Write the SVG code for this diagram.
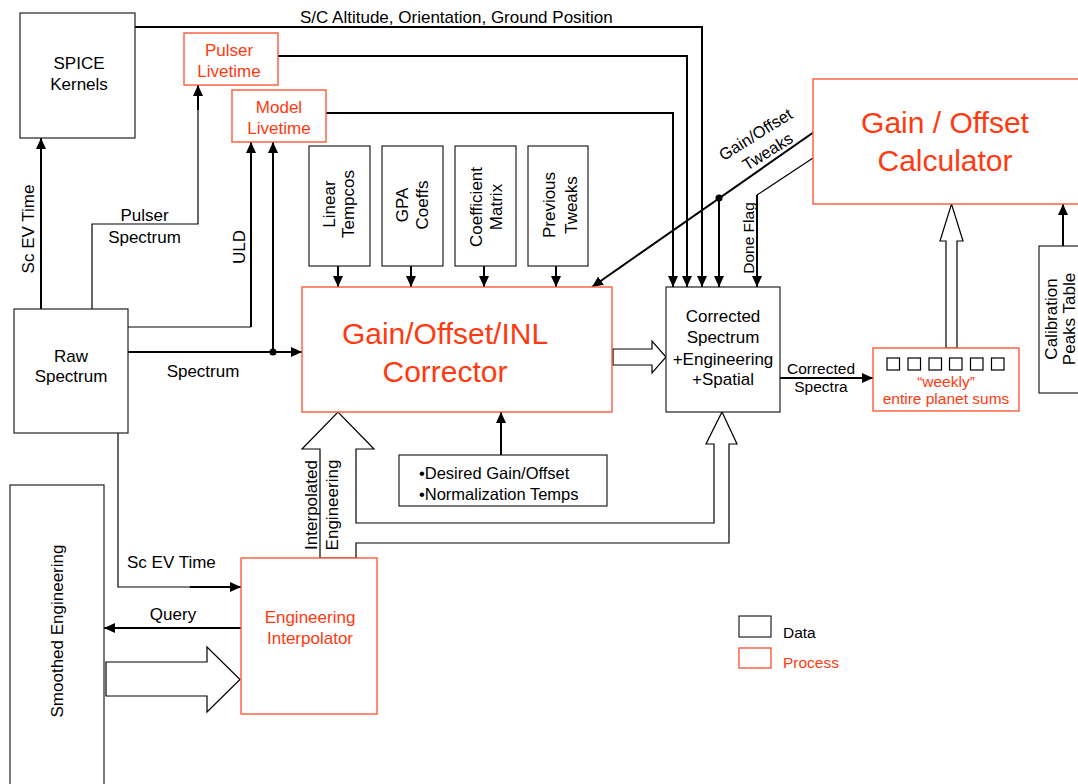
<svg xmlns="http://www.w3.org/2000/svg" width="1078" height="784" viewBox="0 0 1078 784">
  <defs>
    <marker id="ah" markerUnits="userSpaceOnUse" markerWidth="12" markerHeight="11" refX="11" refY="5" orient="auto">
      <path d="M0,0 L11,5 L0,10 z" fill="#000"/>
    </marker>
    <style>
      text { font-family: "Liberation Sans", Arial, sans-serif; fill: #000; }
      .data { fill: #fff; stroke: #222; stroke-width: 1.2; }
      .proc { fill: #fff; stroke: #ff5a3a; stroke-width: 1.4; }
      .red { fill: #ff3a10; }
      .t17 { font-size: 17px; }
      .t15 { font-size: 15.5px; }
      .t16 { font-size: 16.5px; }
      .mid { text-anchor: middle; }
      .big { font-size: 30px; }
      .ln { fill: none; stroke: #000; stroke-width: 2; }
      .thin { fill: none; stroke: #000; stroke-width: 1.2; }
      .arr { marker-end: url(#ah); }
      .hollow { fill: #fff; stroke: #000; stroke-width: 1.2; stroke-linejoin: miter; }
    </style>
  </defs>

  <rect width="1078" height="784" fill="#fff"/>

  <!-- connectors -->
  <g id="connectors">
    <!-- S/C altitude, orientation, ground position -->
    <path class="ln arr" d="M135,27 H702 V287"/>
    <!-- pulser livetime -->
    <path class="ln arr" d="M278,56 H687 V287"/>
    <!-- model livetime -->
    <path class="ln arr" d="M326,113 H673 V287"/>
    <!-- gain/offset tweaks -->
    <path class="ln arr" d="M814,132 L592,287"/>
    <circle cx="719" cy="198" r="3.5" fill="#000"/>
    <path class="ln arr" d="M719,198 V287"/>
    <!-- done flag -->
    <path class="thin" d="M813,158 L757,195"/>
    <path class="ln arr" d="M757,195 V287"/>
    <!-- coefficient inputs -->
    <path class="ln arr" d="M338,266 V287"/>
    <path class="ln arr" d="M411,266 V287"/>
    <path class="ln arr" d="M484,266 V287"/>
    <path class="ln arr" d="M556,266 V287"/>
    <!-- raw spectrum outputs -->
    <path class="ln arr" d="M41,309 V138"/>
    <path class="thin" d="M92,309 V224 H198 V100"/>
    <path class="ln arr" d="M198,110 V85"/>
    <path class="thin" d="M128,327 H251"/>
    <path class="ln arr" d="M251,327 V142"/>
    <path class="ln arr" d="M128,352 H302"/>
    <circle cx="273" cy="352" r="3.5" fill="#000"/>
    <path class="ln arr" d="M273,352 V142"/>
    <path class="thin" d="M118,433 V587 H200"/>
    <path class="ln arr" d="M190,587 H241"/>
    <!-- query -->
    <path class="ln arr" d="M241,628 H104"/>
    <!-- desired gain / normalization -->
    <path class="ln arr" d="M501,455 V412"/>
    <!-- corrected spectra -->
    <path class="ln arr" d="M780,378 H873"/>
    <!-- calibration peaks -->
    <path class="ln arr" d="M1063,246 V204"/>

    <!-- wide flow arrows -->
    <polygon class="hollow" points="613,349 652,349 652,341 666,357 652,373 652,365 613,365"/>
    <polygon class="hollow" points="946,348 946,241 940,241 951.5,204 963,241 957,241 957,348"/>
    <polygon class="hollow" points="106,662 207,662 207,647 240,679.5 207,712 207,696 106,696"/>
    <polygon class="hollow" points="320,558 320,449 302,449 338,412 374,449 356,449 356,523 714,523 714,444 706,444 722,412 737,444 729,444 729,543 356,543 356,558"/>
  </g>

  <!-- labels on connectors -->
  <g id="connector-labels">
    <text class="t17" x="300" y="23">S/C Altitude, Orientation, Ground Position</text>
    <g transform="translate(756,135) rotate(-32)"><text class="t16 mid" x="0" y="5">Gain/Offset</text></g>
    <g transform="translate(768,152) rotate(-32)"><text class="t16 mid" x="0" y="5">Tweaks</text></g>
    <text class="t15 mid" transform="translate(754,238) rotate(-90)">Done Flag</text>
    <text class="t17 mid" transform="translate(34,229) rotate(-90)">Sc EV Time</text>
    <text class="t17 mid" x="144.5" y="221">Pulser</text>
    <text class="t17 mid" x="144.5" y="243">Spectrum</text>
    <text class="t17 mid" transform="translate(245,247) rotate(-90)">ULD</text>
    <text class="t17 mid" x="203" y="377">Spectrum</text>
    <text class="t17" x="127" y="568">Sc EV Time</text>
    <text class="t17 mid" x="173" y="620">Query</text>
    <text class="t15 mid" x="821" y="374">Corrected</text>
    <text class="t15 mid" x="821" y="392">Spectra</text>
    <text class="t17 mid" transform="translate(317,505) rotate(-90)">Interpolated</text>
    <text class="t17 mid" transform="translate(338,505) rotate(-90)">Engineering</text>
  </g>

  <g id="spice">
    <rect class="data" x="20" y="13" width="115" height="125"/>
    <text class="t17 mid" x="79" y="69">SPICE</text>
    <text class="t17 mid" x="79" y="90">Kernels</text>
  </g>

  <g id="pulser-livetime">
    <rect class="proc" x="184" y="33" width="94" height="52"/>
    <text class="t17 mid red" x="229" y="56">Pulser</text>
    <text class="t17 mid red" x="229" y="77">Livetime</text>
  </g>

  <g id="model-livetime">
    <rect class="proc" x="232" y="90" width="94" height="52"/>
    <text class="t17 mid red" x="279" y="113">Model</text>
    <text class="t17 mid red" x="279" y="134">Livetime</text>
  </g>

  <g id="linear-tempcos">
    <rect class="data" x="309" y="146" width="61" height="120"/>
    <text class="t17 mid" transform="translate(335,204) rotate(-90)">Linear</text>
    <text class="t17 mid" transform="translate(354,204) rotate(-90)">Tempcos</text>
  </g>

  <g id="gpa-coeffs">
    <rect class="data" x="382" y="146" width="61" height="120"/>
    <text class="t17 mid" transform="translate(408,205) rotate(-90)">GPA</text>
    <text class="t17 mid" transform="translate(428,205) rotate(-90)">Coeffs</text>
  </g>

  <g id="coefficient-matrix">
    <rect class="data" x="455" y="146" width="61" height="120"/>
    <text class="t17 mid" transform="translate(482,207) rotate(-90)">Coefficient</text>
    <text class="t17 mid" transform="translate(502,207) rotate(-90)">Matrix</text>
  </g>

  <g id="previous-tweaks">
    <rect class="data" x="528" y="146" width="60" height="120"/>
    <text class="t17 mid" transform="translate(555,205) rotate(-90)">Previous</text>
    <text class="t17 mid" transform="translate(577,205) rotate(-90)">Tweaks</text>
  </g>

  <g id="gain-offset-calculator">
    <rect class="proc" x="813" y="79" width="290" height="125"/>
    <text class="big mid red" x="945" y="133">Gain / Offset</text>
    <text class="big mid red" x="945" y="171">Calculator</text>
  </g>

  <g id="calibration-peaks">
    <rect class="data" x="1039" y="246" width="60" height="147"/>
    <text class="t17 mid" transform="translate(1057,319) rotate(-90)">Calibration</text>
    <text class="t17 mid" transform="translate(1075,319) rotate(-90)">Peaks Table</text>
  </g>

  <g id="raw-spectrum">
    <rect class="data" x="14" y="309" width="114" height="124"/>
    <text class="t17 mid" x="71" y="362">Raw</text>
    <text class="t17 mid" x="71" y="382">Spectrum</text>
  </g>

  <g id="corrector">
    <rect class="proc" x="302" y="287" width="310" height="125"/>
    <text class="big mid red" x="445" y="344">Gain/Offset/INL</text>
    <text class="big mid red" x="445" y="382">Corrector</text>
  </g>

  <g id="corrected-spectrum">
    <rect class="data" x="666" y="287" width="114" height="125"/>
    <text class="t17 mid" x="723" y="322">Corrected</text>
    <text class="t17 mid" x="723" y="343">Spectrum</text>
    <text class="t17 mid" x="723" y="365">+Engineering</text>
    <text class="t17 mid" x="723" y="385">+Spatial</text>
  </g>

  <g id="weekly-sums">
    <rect class="proc" x="873" y="348" width="146" height="63"/>
    <g class="thin">
      <rect x="887" y="358" width="12.5" height="12"/>
      <rect x="908" y="358" width="12.5" height="12"/>
      <rect x="929" y="358" width="12.5" height="12"/>
      <rect x="949.5" y="358" width="12.5" height="12"/>
      <rect x="970.5" y="358" width="12.5" height="12"/>
      <rect x="991.5" y="358" width="12.5" height="12"/>
    </g>
    <text class="t15 mid red" x="946" y="387">“weekly”</text>
    <text class="t15 mid red" x="946" y="404">entire planet sums</text>
  </g>

  <g id="desired-gain">
    <rect class="data" x="399" y="455" width="208" height="51"/>
    <text class="t16" x="419" y="479">•Desired Gain/Offset</text>
    <text class="t16" x="419" y="500">•Normalization Temps</text>
  </g>

  <g id="smoothed-engineering">
    <rect class="data" x="10" y="485" width="94" height="310"/>
    <text class="t17 mid" transform="translate(63,631) rotate(-90)">Smoothed Engineering</text>
  </g>

  <g id="engineering-interpolator">
    <rect class="proc" x="241" y="558" width="136" height="156"/>
    <text class="t17 mid red" x="310" y="623">Engineering</text>
    <text class="t17 mid red" x="310" y="644">Interpolator</text>
  </g>

  <g id="legend">
    <rect class="data" x="739" y="616" width="32" height="21"/>
    <text class="t15" x="783" y="638">Data</text>
    <rect class="proc" x="739" y="648" width="32" height="20"/>
    <text class="t15 red" x="783" y="668">Process</text>
  </g>
</svg>
